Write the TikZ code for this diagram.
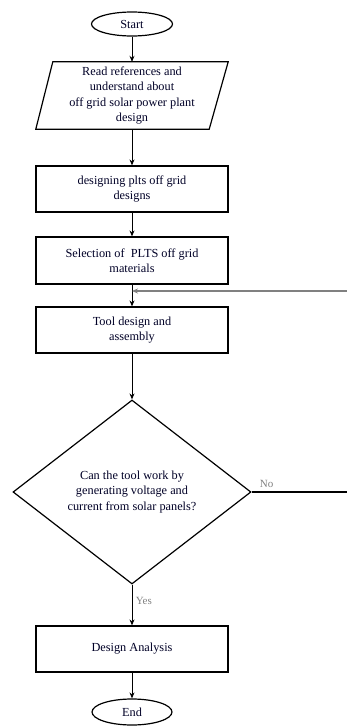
\documentclass[tikz,border=0pt]{standalone}
\usepackage{fontspec}
\setmainfont{Liberation Serif}
\usetikzlibrary{shapes.geometric,arrows.meta,calc}
\begin{document}
\begin{tikzpicture}[x=1pt,y=-1pt,
  every node/.style={font=\fontsize{12.3}{15.5}\selectfont, text=black!85!blue},
  term/.style={ellipse, draw, line width=1.2pt, minimum width=81, minimum height=24, inner sep=0},
  procbox/.style={rectangle, draw, line width=1.2pt, minimum width=192, minimum height=46, align=center, inner sep=0},
  decide/.style={diamond, draw, line width=1.2pt, minimum width=238, minimum height=184, inner sep=0, align=center},
  flow/.style={line width=0.9pt, -{Stealth[length=6pt,width=5pt]}},
  back/.style={line width=1.4pt, gray, -{Stealth[length=6pt,width=5pt]}},
  lbl/.style={font=\fontsize{11}{13}\selectfont, text=gray}]
\useasboundingbox (0,0) rectangle (346,726);
\node[term] (start) at (132,24) {Start};
\node[rectangle, minimum width=192, minimum height=67, inner sep=0, align=center] (read) at (132,95.5)
  {Read references and\\understand about\\off grid solar power plant\\design};
\draw[line width=1.2pt] ($(read.north west)+(17,0)$) -- (read.north east) -- ($(read.south east)+(-19,0)$) -- (read.south west) -- cycle;
\node[procbox] (plts) at (132,189) {designing plts off grid\\designs};
\node[procbox, minimum height=47] (sel) at (132,260.5) {Selection of \ PLTS off grid\\materials};
\coordinate (join) at (132,291);
\node[procbox] (tool) at (132,330) {Tool design and\\assembly};
\node[decide] (dec) at (132,492) {Can the tool work by\\generating voltage and\\current from solar panels?};
\node[procbox] (ana) at (132,649) {Design Analysis};
\node[term, minimum width=80, minimum height=26] (end) at (132,712) {End};
\draw[flow] (start) -- (read);
\draw[flow] (read) -- (plts);
\draw[flow] (plts) -- (sel);
\draw[flow] (sel) -- (tool);
\draw[flow] (tool) -- (dec);
\draw[flow] (dec) -- node[lbl, right, pos=0.4] {Yes} (ana);
\draw[flow] (ana) -- (end);
\draw[line width=1.2pt] (dec.east) -- node[lbl, above, pos=0.15] {No} (352,492);
\draw[back] (352,291) -- (join);
\end{tikzpicture}
\end{document}
